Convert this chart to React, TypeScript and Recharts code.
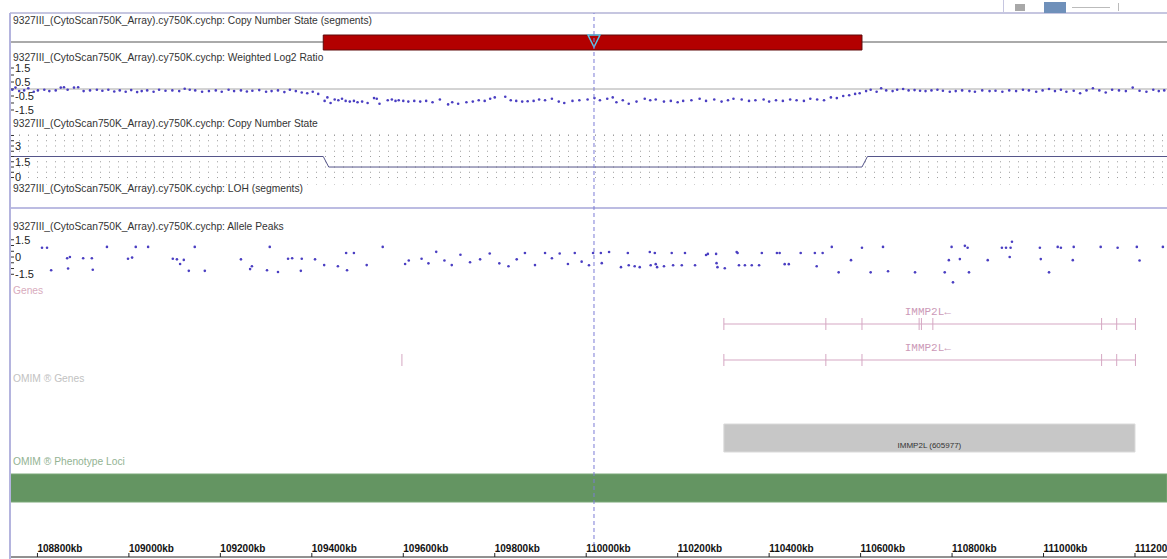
import React from "react";
import {
  Bar,
  Cell,
  CartesianGrid,
  ComposedChart,
  LabelList,
  Line,
  ReferenceDot,
  ReferenceLine,
  Scatter,
  XAxis,
  YAxis,
} from "recharts";

const W = 1157;
const LEFT = 10;
const X_DOMAIN: [number, number] = [108740, 111270];
const FONT = "'Liberation Sans', Arial, sans-serif";
const SAMPLE = "9327III_(CytoScan750K_Array).cy750K.cychp";

// genomic axis (kb)
const majorTicks = [108800, 109000, 109200, 109400, 109600, 109800, 110000, 110200, 110400, 110600, 110800, 111000, 111200];
const minorTicks = Array.from({ length: 127 }, (_, i) => 108740 + i * 20);
const cursorKb = 110017;

// copy number segments
const cnSegments = [{ track: "CN", range: [109425, 110603] }];

// weighted log2 ratio  [kb, value]
const log2Ratio: [number, number][] = [
  [108745, -0.05], [108752, 0.1], [108760, -0.15], [108771, -0.1], [108780, 0.05], [108792, -0.2], [108801, -0.1],
  [108815, -0.05], [108826, -0.15], [108840, -0.1], [108851, 0.1], [108858, 0.12], [108866, -0.05], [108880, 0.1],
  [108889, 0.12], [108901, -0.15], [108915, -0.1], [108930, -0.05], [108942, -0.12], [108955, -0.05], [108968, -0.18],
  [108980, -0.1], [108993, -0.2], [109005, -0.08], [109018, -0.22], [109028, -0.15], [109040, -0.1], [109054, -0.2],
  [109066, -0.05], [109080, -0.12], [109095, -0.1], [109110, -0.15], [109122, 0.02], [109133, -0.05], [109145, -0.1],
  [109160, -0.2], [109175, -0.15], [109190, -0.1], [109203, -0.2], [109218, -0.05], [109230, -0.15], [109245, -0.1],
  [109258, -0.18], [109270, -0.12], [109285, -0.08], [109300, -0.2], [109312, -0.15], [109326, -0.1], [109340, -0.22],
  [109352, -0.05], [109365, -0.15], [109378, -0.25], [109390, -0.3], [109402, -0.2], [109414, -0.35],
  [109428, -0.85], [109434, -0.6], [109441, -1.0], [109450, -0.75], [109458, -0.8], [109466, -0.7], [109474, -0.85],
  [109483, -0.9], [109492, -0.85], [109500, -0.95], [109510, -0.9], [109522, -1.0], [109536, -0.65], [109542, -0.7],
  [109548, -1.05], [109566, -0.8], [109575, -0.75], [109583, -0.85], [109590, -0.8], [109600, -0.85], [109611, -0.9],
  [109624, -0.85], [109637, -0.9], [109650, -0.85], [109664, -0.95], [109680, -0.75], [109698, -1.1], [109707, -0.95],
  [109720, -1.05], [109738, -0.95], [109752, -0.9], [109765, -0.8], [109778, -0.85], [109790, -0.7], [109800, -0.6],
  [109823, -0.55], [109835, -0.8], [109847, -0.85], [109860, -0.9], [109872, -0.88], [109885, -0.85], [109897, -0.75],
  [109910, -0.8], [109925, -0.7], [109940, -0.9], [109952, -1.0], [109970, -0.85], [109985, -0.8], [110003, -0.75],
  [110018, -0.65], [110030, -0.8], [110046, -0.7], [110058, -0.6], [110066, -0.95], [110080, -0.8], [110093, -1.05],
  [110110, -0.9], [110128, -0.7], [110140, -0.8], [110152, -0.75], [110170, -0.9], [110185, -0.85], [110200, -0.95],
  [110212, -0.85], [110230, -0.8], [110248, -0.7], [110262, -0.85], [110280, -0.75], [110296, -0.9], [110310, -0.8],
  [110322, -0.7], [110340, -0.75], [110356, -0.85], [110370, -0.8], [110388, -0.75], [110400, -0.9], [110415, -0.8],
  [110430, -0.85], [110446, -0.75], [110460, -0.8], [110476, -0.85], [110490, -0.7], [110505, -0.75], [110520, -0.8],
  [110535, -0.6], [110548, -0.65], [110562, -0.5], [110575, -0.45], [110588, -0.35], [110598, -0.3],
  [110612, -0.15], [110622, -0.05], [110635, -0.2], [110645, 0.05], [110656, -0.1], [110670, -0.15], [110680, -0.05],
  [110693, 0.0], [110705, -0.1], [110718, -0.08], [110730, -0.12], [110742, -0.15], [110755, -0.1], [110768, -0.05],
  [110780, -0.12], [110795, -0.2], [110808, -0.15], [110822, -0.1], [110838, -0.15], [110850, -0.2], [110866, -0.1],
  [110882, -0.15], [110895, -0.12], [110910, -0.2], [110925, -0.1], [110940, -0.15], [110955, -0.05], [110968, -0.1],
  [110984, -0.2], [110998, -0.1], [111012, 0.0], [111025, -0.15], [111038, -0.05], [111050, -0.2], [111066, -0.12],
  [111080, -0.3], [111094, -0.1], [111108, 0.05], [111122, -0.1], [111136, -0.25], [111150, -0.05], [111165, -0.1],
  [111180, -0.15], [111195, 0.1], [111210, -0.12], [111225, -0.2], [111240, -0.05], [111252, -0.15], [111264, -0.1],
];
const log2Ticks = [1.5, 1, 0.5, 0, -0.5, -1, -1.5];
const log2Labels = [1.5, 0.5, -0.5, -1.5];

// copy number state
const cnState = [
  { kb: 108740, cn: 2 },
  { kb: 109425, cn: 2 },
  { kb: 109437, cn: 1 },
  { kb: 110603, cn: 1 },
  { kb: 110615, cn: 2 },
  { kb: 111270, cn: 2 },
];
const cnTicks = [0, 0.5, 1, 1.5, 2, 2.5, 3, 3.5, 4];
const cnLabels = [0, 1.5, 3];

// allele peaks [kb, value]
const allelePeaks: [number, number][] = [
  [108810, 0.8], [108821, 0.8], [108830, -1.15], [108865, -0.1], [108867, -1.0], [108871, 0.0], [108900, -0.1],
  [108919, -0.1], [108921, -1.1], [108952, 0.88], [108998, -0.15], [109007, -0.05], [109015, 0.88], [109042, 0.88],
  [109096, -0.15], [109105, -0.2], [109112, -0.6], [109120, -0.25], [109131, -1.2], [109144, 0.88], [109166, -1.2],
  [109245, -0.2], [109265, -1.05], [109269, -0.8], [109302, -1.15], [109308, 0.88], [109326, -1.3], [109348, -0.15],
  [109357, -0.1], [109376, -1.2], [109378, -0.15], [109407, -0.2], [109427, -0.7], [109457, -0.8], [109475, 0.35],
  [109477, -1.15], [109492, 0.35], [109520, -0.7], [109555, 0.88],
  [109604, -0.6], [109612, -0.3], [109640, -0.15], [109655, -0.55], [109672, 0.45], [109690, -0.3], [109706, -0.7],
  [109725, 0.2], [109746, -0.45], [109768, -0.2], [109789, 0.3], [109810, -0.55], [109830, -0.8], [109848, -0.2],
  [109866, 0.35], [109888, -0.7], [109910, 0.35], [109925, -0.1], [109942, 0.3], [109960, -0.6], [109975, 0.35],
  [109990, -0.4],
  [110006, -0.71], [110015, 0.35], [110032, 0.35], [110034, -0.53], [110050, 0.44], [110076, -0.88], [110091, 0.35],
  [110093, -0.71], [110106, -0.8], [110117, -0.88], [110139, 0.44], [110150, 0.35], [110141, -0.71], [110152, -0.62],
  [110155, -0.88], [110170, -0.8], [110187, 0.35], [110190, -0.71], [110209, -0.71], [110216, 0.35], [110238, -0.71],
  [110262, 0.18], [110266, 0.27], [110284, 0.27], [110285, -0.53], [110287, -0.88], [110303, -0.97], [110329, 0.44],
  [110331, 0.35], [110334, -0.71], [110347, -0.71], [110362, -0.71], [110378, -0.71], [110384, 0.35], [110417, 0.35],
  [110423, 0.35], [110434, -0.62], [110443, -0.62], [110469, 0.35], [110500, 0.35], [110504, -0.8], [110517, 0.35],
  [110537, 0.88], [110552, -1.33], [110579, -0.27], [110603, 0.8], [110622, -1.33], [110649, 0.88], [110660, -1.24],
  [110719, -1.33], [110784, -1.33], [110793, -0.27], [110799, 0.88], [110802, -2.2], [110817, -0.18], [110828, 0.97],
  [110834, 0.8], [110837, -1.33], [110878, -0.27], [110909, 0.8], [110918, 0.8], [110926, 0.0], [110928, 0.8],
  [110931, 1.33], [110992, 0.8], [110994, -0.18], [111012, -1.33], [111031, 0.88], [111038, 0.8], [111064, -0.27],
  [111066, 0.88], [111125, 0.88], [111162, 0.8], [111204, 0.88], [111210, -0.3], [111261, 0.88],
];
const alleleTicks = [1.5, 1, 0.5, 0, -0.5, -1, -1.5];
const alleleLabels = [1.5, 0, -1.5];

// genes: two transcripts of IMMP2L (level = row in the track)
const transcripts = [
  { name: "IMMP2L\u2190", level: 4, start: 110301, end: 111201, mid: 110747 },
  { name: "IMMP2L\u2190", level: 1, start: 110301, end: 111201, mid: 110747 },
];
const exonsTop = [110301, 110524, 110603, 110728, 110733, 110758, 111127, 111160, 111201];
const exonsBottom = [109597, 110301, 110524, 110603, 111127, 111160, 111201];

// OMIM tracks
const omimRows = [
  { row: "OMIM Genes", range: [110301, 111200], label: "IMMP2L (605977)" },
  { row: "OMIM Phenotype Loci", range: [108740, 111270], label: "" },
];
const omimFills = ["#c7c7c7", "#649562"];
const omimStrokes = ["#dadada", "#7aa878"];

const DOT = "#4a3ec2";
const GENE = "#d5a7c3";
const margin0 = { top: 0, right: 0, bottom: 0, left: 0 };

const Dot = (p: any) => <circle cx={p.cx} cy={p.cy} r={1.3} fill={DOT} />;
const Nothing = () => <g />;
const ExonTick = (p: any) => <line x1={p.cx} x2={p.cx} y1={p.cy - 6} y2={p.cy + 6} stroke={GENE} strokeWidth={1} />;
const GeneLabel = (p: any) => (
  <text x={p.cx} y={p.cy - 9} textAnchor="middle" fontSize={11} fill="#cc9ab8" fontFamily="'Liberation Mono', 'DejaVu Sans Mono', monospace">
    {p.payload.name}
  </text>
);
const Cursor = (p: any) => (
  <path d={`M${p.cx - 6},${p.cy - 7} L${p.cx + 6},${p.cy - 7} L${p.cx},${p.cy + 5} Z`} fill="none" stroke="#58c4e6" strokeWidth={1.5} />
);
const KbTick = (p: any) => (
  <text x={p.x} y={p.y} textAnchor="start" fontSize={10} fontWeight="bold" fill="#111" fontFamily={FONT}>
    {p.payload.value}kb
  </text>
);

const yTick = { fontSize: 11, fill: "#222", fontFamily: FONT };
const fmt = (labels: number[]) => (v: number) => (labels.includes(v) ? String(v) : "");

function Title({ y, color = "#333", children }: { y: number; color?: string; children: React.ReactNode }) {
  return (
    <div style={{ position: "absolute", left: 13, top: y - 6, fontSize: 10.25, lineHeight: "12px", color, fontFamily: FONT, whiteSpace: "nowrap" }}>
      {children}
    </div>
  );
}

const abs = (top: number): React.CSSProperties => ({ position: "absolute", left: LEFT, top });
const tickRows = majorTicks.map((kb) => ({ kb, y: 0.5 }));

export default function App() {
  return (
    <div style={{ position: "relative", width: 1167, height: 559, background: "#fff", overflow: "hidden" }}>
      <style>{"body{margin:0}"}</style>

      {/* toolbar strip */}
      <div style={{ position: "absolute", left: 10, top: 12, width: 1157, height: 2, background: "#c6c6e0" }} />
      <div style={{ position: "absolute", left: 1003, top: 0, width: 1, height: 13, background: "#c6c6e0" }} />
      <div style={{ position: "absolute", left: 1015, top: 4, width: 10, height: 7, background: "#a8a8a8" }} />
      <div style={{ position: "absolute", left: 1044, top: 2, width: 22, height: 11, background: "#6f90ba" }} />
      <div style={{ position: "absolute", left: 1072, top: 7, width: 38, height: 1, background: "#bbb" }} />
      <div style={{ position: "absolute", left: 1118, top: 3, width: 1, height: 8, background: "#bbb" }} />

      <Title y={21}>{SAMPLE}: Copy Number State (segments)</Title>
      <div style={{ position: "absolute", left: 10, top: 41, width: 1157, height: 2, background: "#aaaaaa" }} />
      <div style={abs(28)}>
        <ComposedChart layout="vertical" width={W} height={28} data={cnSegments} margin={margin0}>
          <XAxis type="number" domain={X_DOMAIN} allowDataOverflow hide />
          <YAxis type="category" dataKey="track" hide />
          <Bar dataKey="range" barSize={15} fill="#b30000" stroke="#5e0a0a" strokeWidth={1} isAnimationActive={false} />
          <ReferenceDot x={cursorKb} y="CN" shape={Cursor} />
        </ComposedChart>
      </div>

      <Title y={58}>{SAMPLE}: Weighted Log2 Ratio</Title>
      <div style={abs(62)}>
        <ComposedChart width={W} height={54} margin={margin0}>
          <XAxis type="number" dataKey="kb" domain={X_DOMAIN} allowDataOverflow hide />
          <YAxis type="number" domain={[-1.93, 1.93]} ticks={log2Ticks} interval={0} mirror axisLine={false}
            tickLine={{ stroke: "#333" }} tickSize={4} tickMargin={1} tick={yTick} tickFormatter={fmt(log2Labels)} allowDataOverflow />
          <ReferenceLine y={0} stroke="#a8a8a8" />
          <Scatter data={log2Ratio.map(([kb, v]) => ({ kb, v }))} dataKey="v" shape={Dot} isAnimationActive={false} />
        </ComposedChart>
      </div>

      <Title y={124}>{SAMPLE}: Copy Number State</Title>
      <div style={abs(134)}>
        <ComposedChart width={W} height={51} data={cnState} margin={margin0}>
          <CartesianGrid vertical={false} stroke="#9c9c9c" strokeDasharray="1 8" />
          <XAxis type="number" dataKey="kb" domain={X_DOMAIN} allowDataOverflow hide />
          <YAxis type="number" domain={[-0.71, 4.14]} ticks={cnTicks} interval={0} mirror axisLine={false}
            tickLine={{ stroke: "#333" }} tickSize={4} tickMargin={1} tick={yTick} tickFormatter={fmt(cnLabels)} allowDataOverflow />
          <Line dataKey="cn" type="linear" stroke="#55558a" strokeWidth={1} dot={false} isAnimationActive={false} />
        </ComposedChart>
      </div>

      <Title y={189}>{SAMPLE}: LOH (segments)</Title>
      <div style={{ position: "absolute", left: 10, top: 207, width: 1157, height: 2, background: "#bcbce2" }} />

      <Title y={227}>{SAMPLE}: Allele Peaks</Title>
      <div style={abs(234)}>
        <ComposedChart width={W} height={51} margin={margin0}>
          <XAxis type="number" dataKey="kb" domain={X_DOMAIN} allowDataOverflow hide />
          <YAxis type="number" domain={[-2.43, 2.0]} ticks={alleleTicks} interval={0} mirror axisLine={false}
            tickLine={{ stroke: "#333" }} tickSize={4} tickMargin={1} tick={yTick} tickFormatter={fmt(alleleLabels)} allowDataOverflow />
          <Scatter data={allelePeaks.map(([kb, v]) => ({ kb, v }))} dataKey="v" shape={Dot} isAnimationActive={false} />
        </ComposedChart>
      </div>

      <Title y={291} color="#d8abbd">Genes</Title>
      <div style={abs(300)}>
        <ComposedChart width={W} height={72} margin={margin0}>
          <XAxis type="number" dataKey="kb" domain={X_DOMAIN} allowDataOverflow hide />
          <YAxis type="number" domain={[0, 6]} hide />
          {transcripts.map((t, i) => (
            <Line key={i} data={[{ kb: t.start, lvl: t.level }, { kb: t.end, lvl: t.level }]} dataKey="lvl"
              stroke={GENE} strokeWidth={1} dot={false} isAnimationActive={false} />
          ))}
          <Scatter data={exonsTop.map((kb) => ({ kb, lvl: 4 }))} dataKey="lvl" shape={ExonTick} isAnimationActive={false} />
          <Scatter data={exonsBottom.map((kb) => ({ kb, lvl: 1 }))} dataKey="lvl" shape={ExonTick} isAnimationActive={false} />
          <Scatter data={transcripts.map((t) => ({ kb: t.mid, lvl: t.level, name: t.name }))} dataKey="lvl" shape={GeneLabel} isAnimationActive={false} />
        </ComposedChart>
      </div>

      <Title y={379} color="#c2c2c2">OMIM ® Genes</Title>
      <Title y={462} color="#93b393">OMIM ® Phenotype Loci</Title>
      <div style={abs(413)}>
        <ComposedChart layout="vertical" width={W} height={100} data={omimRows} margin={margin0}>
          <XAxis type="number" domain={X_DOMAIN} allowDataOverflow hide />
          <YAxis type="category" dataKey="row" hide />
          <Bar dataKey="range" barSize={28} isAnimationActive={false}>
            {omimRows.map((r, i) => (
              <Cell key={r.row} fill={omimFills[i]} stroke={omimStrokes[i]} />
            ))}
            <LabelList dataKey="label" content={(p: any) =>
              p.value ? (
                <text x={p.x + p.width / 2} y={p.y + p.height - 4} textAnchor="middle" fontSize={8} fill="#333" fontFamily={FONT}>
                  {p.value}
                </text>
              ) : null
            } />
          </Bar>
        </ComposedChart>
      </div>

      {/* genomic axis */}
      <div style={abs(513)}>
        <ComposedChart width={W} height={45} data={tickRows} margin={{ top: 0, right: 0, bottom: 1, left: 0 }}>
          <XAxis dataKey="kb" type="number" domain={X_DOMAIN} ticks={majorTicks} interval={0} mirror allowDataOverflow
            axisLine={{ stroke: "#222" }} tickLine={{ stroke: "#222" }} tickSize={4} tickMargin={1} tick={KbTick} />
          <XAxis xAxisId="minor" dataKey="kb" type="number" domain={X_DOMAIN} ticks={minorTicks} interval={0} mirror allowDataOverflow
            axisLine={false} tickLine={{ stroke: "#444" }} tickSize={2} tick={false} />
          <YAxis type="number" domain={[0, 1]} hide />
          <Scatter dataKey="y" shape={Nothing} isAnimationActive={false} />
          <Scatter xAxisId="minor" dataKey="y" shape={Nothing} isAnimationActive={false} />
        </ComposedChart>
      </div>

      {/* position cursor */}
      <div style={{ ...abs(13), pointerEvents: "none" }}>
        <ComposedChart width={W} height={533} data={tickRows} margin={margin0}>
          <XAxis dataKey="kb" type="number" domain={X_DOMAIN} allowDataOverflow hide />
          <YAxis type="number" domain={[0, 1]} hide />
          <Scatter dataKey="y" shape={Nothing} isAnimationActive={false} />
          <ReferenceLine x={cursorKb} stroke="#7b7bd6" strokeDasharray="4 3" />
        </ComposedChart>
      </div>

      <div style={{ position: "absolute", left: 9, top: 13, width: 2, height: 546, background: "#b4b4de" }} />
    </div>
  );
}
